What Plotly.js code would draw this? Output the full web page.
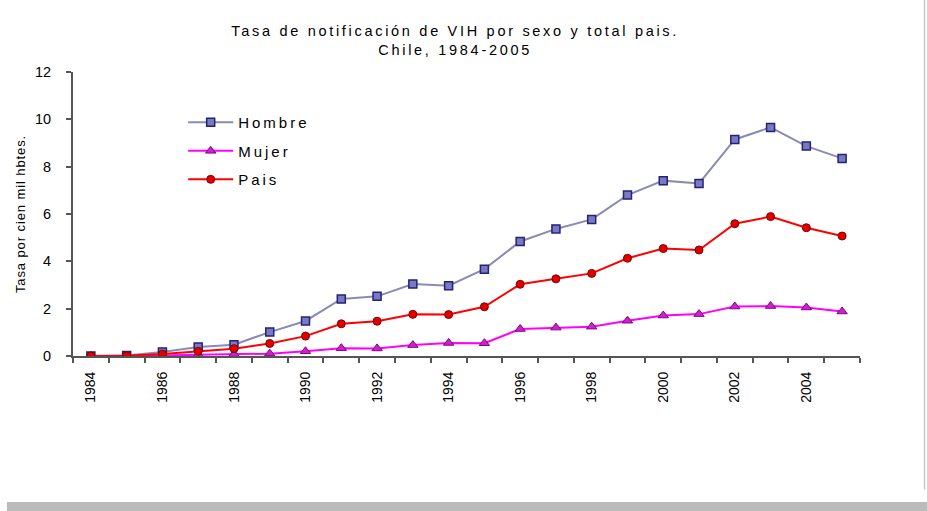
<!DOCTYPE html>
<html>
<head>
<meta charset="utf-8">
<script src="https://cdn.plot.ly/plotly-3.0.1.min.js"></script>
<style>
body{margin:0;background:#fff}
/* el original tiene texto muy espaciado */
#plot .gtitle{letter-spacing:2.7px}
#plot .legendtext{letter-spacing:3px}
#plot .legend g{clip-path:none !important}
#plot .ytitle{letter-spacing:0.9px}
</style>
</head>
<body>
<div id="plot" style="width:927px;height:511px"></div>
<script>
// anos y tasas por cien mil habitantes
var years = [1984, 1985, 1986, 1987, 1988, 1989, 1990, 1991, 1992, 1993, 1994,
             1995, 1996, 1997, 1998, 1999, 2000, 2001, 2002, 2003, 2004, 2005]
var labelYears = [1984, 1986, 1988, 1990, 1992, 1994, 1996, 1998, 2000, 2002, 2004]

var hombre = [0, 0.02, 0.17, 0.38, 0.48, 1.01, 1.48, 2.41, 2.52, 3.04, 2.97,
              3.67, 4.84, 5.37, 5.77, 6.8, 7.41, 7.29, 9.15, 9.66, 8.87, 8.35]
var mujer = [0, 0, 0.02, 0.05, 0.08, 0.1, 0.2, 0.33, 0.32, 0.46, 0.55,
             0.54, 1.14, 1.2, 1.24, 1.49, 1.71, 1.77, 2.09, 2.11, 2.05, 1.88]
var pais = [0, 0.01, 0.08, 0.2, 0.31, 0.53, 0.84, 1.36, 1.47, 1.76, 1.75,
            2.08, 3.03, 3.26, 3.49, 4.13, 4.54, 4.48, 5.59, 5.89, 5.42, 5.07]

var traces = [
  {
    x: years, y: hombre, name: "Hombre", type: "scatter", mode: "lines+markers",
    line: {color: "#8a8ab4", width: 2},
    marker: {symbol: "square", size: 8, color: "#7a7ac0", line: {color: "#22227a", width: 1.5}},
    legendgroup: "a"
  },
  {
    x: years, y: mujer, name: "Mujer", type: "scatter", mode: "lines+markers",
    line: {color: "#ff00ff", width: 2},
    marker: {symbol: "triangle-up", size: 9, color: "#cc22cc", line: {color: "#880088", width: 1}},
    legendgroup: "b"
  },
  {
    x: years, y: pais, name: "Pais", type: "scatter", mode: "lines+markers",
    line: {color: "#ff0000", width: 2},
    marker: {symbol: "circle", size: 8, color: "#e00000", line: {color: "#800000", width: 1}},
    legendgroup: "c"
  }
]

var layout = {
  width: 927, height: 511,
  margin: {l: 73, r: 67, t: 72, b: 155},
  paper_bgcolor: "#fff", plot_bgcolor: "#fff",
  font: {family: "Liberation Sans, Arial, sans-serif", color: "#000"},
  title: {
    text: "Tasa de notificación de VIH por sexo y total pais.<br>Chile, 1984-2005",
    font: {size: 14.5},
    x: 0.491, xanchor: "center", xref: "container",
    y: 0.93, yanchor: "top", yref: "container"
  },
  showlegend: true,
  legend: {
    x: 0.14, y: 0.88, xanchor: "left", yanchor: "top",
    font: {size: 15}, itemwidth: 45, tracegroupgap: 6,
    traceorder: "grouped", bgcolor: "rgba(0,0,0,0)"
  },
  xaxis: {
    range: [1983.5, 2005.5],
    tickmode: "array", tickvals: labelYears, ticktext: labelYears.map(String),
    tickangle: -90, ticks: "", tickfont: {size: 14},
    ticklabelstandoff: 8,
    showline: true, linecolor: "#555", linewidth: 2,
    showgrid: false, zeroline: false,
    minor: {tick0: 1983.5, dtick: 1, ticks: "outside", ticklen: 5, tickcolor: "#555", tickwidth: 2, showgrid: false}
  },
  yaxis: {
    range: [0, 12], dtick: 2,
    ticks: "outside", ticklen: 5, tickcolor: "#555", tickwidth: 2,
    tickfont: {size: 14.5}, ticklabelstandoff: 12,
    showline: true, linecolor: "#555", linewidth: 2,
    showgrid: false, zeroline: false,
    title: {text: "Tasa por cien mil hbtes.", font: {size: 13}, standoff: 6}
  },
  shapes: [
    {type: "rect", xref: "paper", yref: "paper", x0: -0.084, x1: 1.09, y0: -0.514, y1: -0.55,
     fillcolor: "#bbbbbb", line: {width: 0}},
    {type: "line", xref: "paper", yref: "paper", x0: 1.082, x1: 1.082, y0: -0.47, y1: 1.26,
     line: {color: "#c8c8c8", width: 1.5}}
  ]
}

Plotly.newPlot("plot", traces, layout, {displayModeBar: false})
</script>
</body>
</html>
